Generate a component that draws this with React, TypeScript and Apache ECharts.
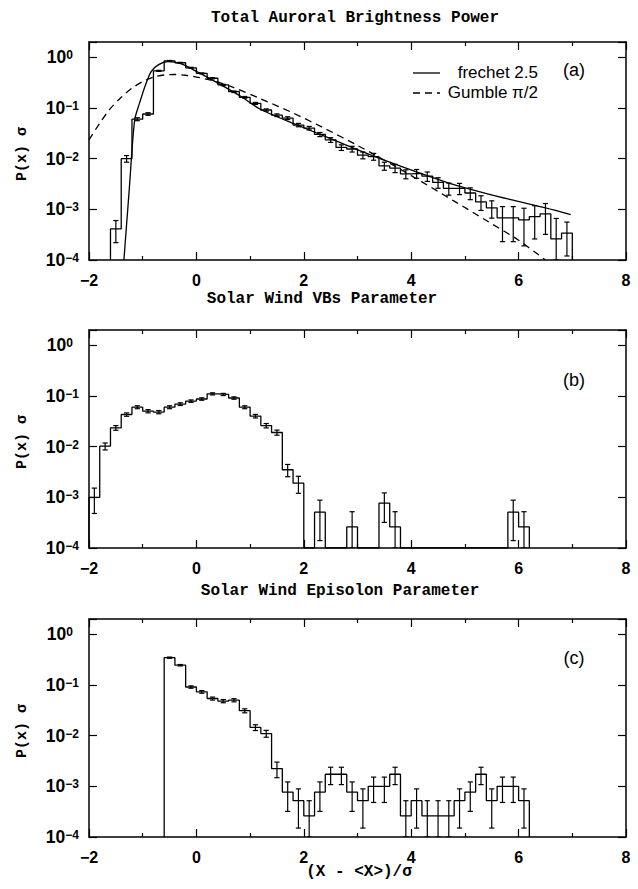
import React, { useEffect, useRef } from "react";
import * as echarts from "echarts";

const FLOOR = 1e-4;
const TOP = 2;
const HALF_BIN = 0.1;

// Panel (a): Total Auroral Brightness Power
const binsA = [-1.5, -1.3, -1.1, -0.9, -0.7, -0.5, -0.3, -0.1, 0.1, 0.3, 0.5, 0.7, 0.9, 1.1, 1.3, 1.5, 1.7, 1.9, 2.1, 2.3, 2.5, 2.7, 2.9, 3.1, 3.3, 3.5, 3.7, 3.9, 4.1, 4.3, 4.5, 4.7, 4.9, 5.1, 5.3, 5.5, 5.7, 5.9, 6.1, 6.3, 6.5, 6.7, 6.9];
const valsA = [4.1e-4, 1.0e-2, 6.0e-2, 7.6e-2, 0.54, 0.85, 0.78, 0.62, 0.48, 0.385, 0.284, 0.209, 0.162, 0.123, 0.091, 0.072, 0.063, 0.046, 0.040, 0.030, 0.0234, 0.0166, 0.0155, 0.0117, 0.011, 0.0072, 0.0065, 0.0050, 0.0051, 0.0045, 0.0034, 0.0026, 0.0026, 0.0021, 0.0014, 0.00107, 0.00068, 0.00068, 0.00062, 0.00072, 0.00081, 0.00026, 0.00034];
const errsA = [1.9e-4, 1.5e-3, 4e-3, 4.5e-3, 1.2e-2, 1.5e-2, 1.4e-2, 1.3e-2, 1.1e-2, 1.0e-2, 8.5e-3, 7.3e-3, 6.4e-3, 5.6e-3, 4.8e-3, 4.3e-3, 4.0e-3, 3.5e-3, 3.2e-3, 2.8e-3, 2.5e-3, 2.1e-3, 2.0e-3, 1.8e-3, 1.7e-3, 1.3e-3, 1.2e-3, 1.0e-3, 1.0e-3, 9.5e-4, 8e-4, 7e-4, 6.5e-4, 5.5e-4, 4.5e-4, 4.0e-4, 4.5e-4, 4.5e-4, 4.3e-4, 4.6e-4, 4.9e-4, 4.0e-4, 2.2e-4];

const frechetX = [-1.35, -1.25, -1.15, -1.06, -0.96, -0.84, -0.71, -0.53, -0.28, 0.0, 0.4, 0.84, 1.2, 2.0, 2.95, 3.6, 4.2, 4.7, 5.3, 5.9, 6.5, 6.97];
const frechetY = [1.0e-4, 2.5e-3, 0.0575, 0.123, 0.263, 0.525, 0.708, 0.818, 0.741, 0.525, 0.309, 0.166, 0.093, 0.0407, 0.0158, 0.0085, 0.0050, 0.0033, 0.00219, 0.00151, 0.00107, 0.00079];

const gumbelX = [-2.0, -1.8, -1.6, -1.4, -1.2, -1.0, -0.8, -0.6, -0.4, -0.2, 0.0, 0.3, 0.65, 1.2, 1.8, 2.4, 3.0, 3.6, 4.2, 4.8, 5.4, 6.0, 6.5];
const gumbelY = [0.0234, 0.0501, 0.0977, 0.162, 0.245, 0.331, 0.407, 0.447, 0.457, 0.442, 0.407, 0.347, 0.263, 0.151, 0.0794, 0.0389, 0.0182, 0.00813, 0.00347, 0.00145, 6.0e-4, 2.45e-4, 1.0e-4];

// Panel (b): Solar Wind VBs Parameter
const binsB = [-1.9, -1.7, -1.5, -1.3, -1.1, -0.9, -0.7, -0.5, -0.3, -0.1, 0.1, 0.3, 0.5, 0.7, 0.9, 1.1, 1.3, 1.5, 1.7, 1.9, 2.1, 2.3, 2.5, 2.7, 2.9, 3.1, 3.3, 3.5, 3.7, 3.9, 4.1, 4.3, 4.5, 4.7, 4.9, 5.1, 5.3, 5.5, 5.7, 5.9, 6.1];
const valsB = [1.0e-3, 1.02e-2, 2.35e-2, 4.3e-2, 6.0e-2, 5.0e-2, 4.8e-2, 6.0e-2, 6.9e-2, 7.9e-2, 8.7e-2, 0.110, 0.107, 0.091, 0.060, 0.040, 0.026, 0.019, 3.5e-3, 1.9e-3, 0, 5.1e-4, 0, 0, 2.6e-4, 0, 0, 7.7e-4, 2.6e-4, 0, 0, 0, 0, 0, 0, 0, 0, 0, 0, 5.1e-4, 2.6e-4];
const errsB = [5.2e-4, 1.6e-3, 2.5e-3, 3.3e-3, 4.0e-3, 3.6e-3, 3.5e-3, 4.0e-3, 4.2e-3, 4.5e-3, 4.8e-3, 5.3e-3, 5.3e-3, 4.9e-3, 4.0e-3, 3.2e-3, 2.6e-3, 2.2e-3, 9.5e-4, 7.0e-4, 0, 3.7e-4, 0, 0, 2.6e-4, 0, 0, 4.5e-4, 2.6e-4, 0, 0, 0, 0, 0, 0, 0, 0, 0, 0, 3.7e-4, 2.6e-4];

// Panel (c): Solar Wind Episolon Parameter
const binsC = [-0.5, -0.3, -0.1, 0.1, 0.3, 0.5, 0.7, 0.9, 1.1, 1.3, 1.5, 1.7, 1.9, 2.1, 2.3, 2.5, 2.7, 2.9, 3.1, 3.3, 3.5, 3.7, 3.9, 4.1, 4.3, 4.5, 4.7, 4.9, 5.1, 5.3, 5.5, 5.7, 5.9, 6.1];
const valsC = [0.345, 0.245, 0.091, 0.073, 0.054, 0.048, 0.050, 0.031, 0.0145, 0.011, 0.00224, 7.7e-4, 5.2e-4, 2.6e-4, 7.7e-4, 1.73e-3, 1.73e-3, 7.7e-4, 5.2e-4, 1.0e-3, 1.0e-3, 1.73e-3, 2.6e-4, 5.2e-4, 2.6e-4, 2.6e-4, 2.6e-4, 5.2e-4, 7.7e-4, 1.73e-3, 5.2e-4, 1.0e-3, 1.0e-3, 5.2e-4];
const errsC = [9.5e-3, 8e-3, 4.9e-3, 4.4e-3, 3.7e-3, 3.5e-3, 3.6e-3, 2.8e-3, 1.9e-3, 1.7e-3, 7.6e-4, 4.5e-4, 3.7e-4, 2.6e-4, 4.5e-4, 6.5e-4, 6.5e-4, 4.5e-4, 3.7e-4, 5.2e-4, 5.2e-4, 6.5e-4, 2.6e-4, 3.7e-4, 2.6e-4, 2.6e-4, 2.6e-4, 3.7e-4, 4.5e-4, 6.5e-4, 3.7e-4, 5.2e-4, 5.2e-4, 3.7e-4];

const xTicks = { min: -2, max: 8, interval: 2 };
const titles = ["Total Auroral Brightness Power", "Solar Wind VBs Parameter", "Solar Wind Episolon Parameter"];
const panelTags = ["(a)", "(b)", "(c)"];
const legendNames = ["frechet 2.5", "Gumble \u03c0/2"];

const GRID_TOPS = [42, 330, 619];
const GRID_H = 218;
const GRID_LEFT = 89;
const GRID_W = 537;

function outline(centers: number[], vals: number[]) {
  const pts: number[][] = [[centers[0] - HALF_BIN, FLOOR]];
  centers.forEach((c, i) => {
    const v = vals[i] > 0 ? vals[i] : FLOOR;
    pts.push([c - HALF_BIN, v], [c + HALF_BIN, v]);
  });
  pts.push([centers[centers.length - 1] + HALF_BIN, FLOOR]);
  return pts;
}

function histSeries(idx: number, centers: number[], vals: number[]) {
  return {
    type: "line",
    xAxisIndex: idx * 2,
    yAxisIndex: idx * 2,
    data: outline(centers, vals),
    symbol: "none",
    showSymbol: false,
    silent: true,
    lineStyle: { color: "#000", width: 1.3 },
    z: 3,
  };
}

function errSeries(idx: number, centers: number[], vals: number[], errs: number[]) {
  const data = centers
    .map((c, i) => [c, vals[i], errs[i]])
    .filter((d) => d[1] > 0 && d[2] > 0);
  return {
    type: "custom",
    xAxisIndex: idx * 2,
    yAxisIndex: idx * 2,
    silent: true,
    clip: true,
    data,
    encode: { x: 0, y: 1 },
    z: 4,
    renderItem: (params: any, api: any) => {
      const x = api.value(0);
      const v = api.value(1);
      const e = api.value(2);
      const hi = Math.min(v + e, TOP);
      const lo = Math.max(v - e, FLOOR);
      const pHi = api.coord([x, hi]);
      const pLo = api.coord([x, lo]);
      const w = 2.6;
      const st = { stroke: "#000", lineWidth: 1.2 };
      return {
        type: "group",
        children: [
          { type: "line", shape: { x1: pHi[0], y1: pHi[1], x2: pLo[0], y2: pLo[1] }, style: st },
          { type: "line", shape: { x1: pHi[0] - w, y1: pHi[1], x2: pHi[0] + w, y2: pHi[1] }, style: st },
          { type: "line", shape: { x1: pLo[0] - w, y1: pLo[1], x2: pLo[0] + w, y2: pLo[1] }, style: st },
        ],
      };
    },
  };
}

function curveSeries(xs: number[], ys: number[], dashed: boolean) {
  return {
    type: "line",
    xAxisIndex: 0,
    yAxisIndex: 0,
    data: xs.map((x, i) => [x, ys[i]]),
    smooth: 0.3,
    symbol: "none",
    showSymbol: false,
    silent: true,
    clip: true,
    lineStyle: { color: "#000", width: 1.3, type: dashed ? [7, 5] : "solid" },
    z: 5,
  };
}

const tickFont = { color: "#000", fontSize: 16, fontWeight: "bold", fontFamily: "Liberation Sans" };

function makeAxes(i: number) {
  const lineStyle = { color: "#000", width: 1.5 };
  const tickStyle = { color: "#000", width: 1.2 };
  const xBase = {
    type: "value",
    gridIndex: i,
    min: xTicks.min,
    max: xTicks.max,
    interval: xTicks.interval,
    axisLine: { show: true, onZero: false, lineStyle },
    axisTick: { show: true, inside: true, length: 8, lineStyle: tickStyle },
    minorTick: { show: true, splitNumber: 2, length: 4, lineStyle: tickStyle },
    splitLine: { show: false },
  };
  const yBase = {
    type: "log",
    logBase: 10,
    gridIndex: i,
    min: FLOOR,
    max: TOP,
    splitNumber: 4,
    axisLine: { show: true, onZero: false, lineStyle },
    axisTick: { show: true, inside: true, length: 8, lineStyle: tickStyle },
    splitLine: { show: false },
    minorTick: { show: false },
  };
  const supFont = { color: "#000", fontSize: 12, fontWeight: "bold", fontFamily: "Liberation Sans", lineHeight: 12, verticalAlign: "top", padding: [1, 0, 0, 0] };
  return {
    x: [
      {
        ...xBase,
        position: "bottom",
        axisLabel: {
          show: true,
          margin: 12,
          ...tickFont,
          formatter: (v: number) => (v < 0 ? "\u2212" + Math.abs(v) : String(v)),
        },
      },
      { ...xBase, position: "top", axisLabel: { show: false } },
    ],
    y: [
      {
        ...yBase,
        position: "left",
        axisLabel: {
          show: true,
          margin: 10,
          formatter: (v: number) => {
            const e = Math.log10(v);
            const r = Math.round(e);
            if (Math.abs(e - r) > 1e-6) return "";
            if (r < 0) return "{b|10}{s|\u2212" + -r + "}";
            return "{b|10}{s|" + r + "}{p|\u2002}";
          },
          rich: {
            b: { color: "#000", fontSize: 17.5, fontWeight: "bold", fontFamily: "Liberation Sans", lineHeight: 18, verticalAlign: "bottom", padding: [6, 0, 0, 0] },
            s: supFont,
            p: { ...supFont },
          },
        },
      },
      { ...yBase, position: "right", axisLabel: { show: false } },
    ],
  };
}

export default function App() {
  const ref = useRef<HTMLDivElement>(null);
  useEffect(() => {
    if (!ref.current) return;
    const chart = echarts.init(ref.current, null, { renderer: "svg" });
    const xAxis: any[] = [];
    const yAxis: any[] = [];
    for (let i = 0; i < 3; i++) {
      const a = makeAxes(i);
      xAxis.push(...a.x);
      yAxis.push(...a.y);
    }
    const monoBold = 'bold 16px "Liberation Mono"';
    const sans = '17px "Liberation Sans"';
    const titleCenters = [[355, 18], [322, 299], [340, 591]];
    const tagY = [70, 380, 658];
    const graphic: any[] = [];
    titles.forEach((t, i) => {
      graphic.push({
        type: "text",
        x: titleCenters[i][0],
        y: titleCenters[i][1],
        style: { text: t, font: monoBold, fill: "#000", align: "center", verticalAlign: "middle" },
      });
      graphic.push({
        type: "text",
        x: 22,
        y: GRID_TOPS[i] + GRID_H / 2 + 3,
        rotation: Math.PI / 2,
        style: { text: "P(x) \u03c3", font: 'bold 15px "Liberation Mono"', fill: "#000", align: "center", verticalAlign: "middle" },
      });
      graphic.push({
        type: "text",
        x: 574,
        y: tagY[i],
        style: { text: panelTags[i], font: '18px "Liberation Sans"', fill: "#000", align: "center", verticalAlign: "middle" },
      });
    });
    graphic.push({
      type: "text",
      x: 359,
      y: 872,
      style: { text: "(X - <X>)/\u03c3", font: monoBold, fill: "#000", align: "center", verticalAlign: "middle" },
    });
    // legend
    graphic.push({ type: "line", shape: { x1: 413, y1: 73, x2: 440, y2: 73 }, style: { stroke: "#000", lineWidth: 1.3 } });
    graphic.push({ type: "line", shape: { x1: 413, y1: 93, x2: 440, y2: 93 }, style: { stroke: "#000", lineWidth: 1.3, lineDash: [7, 5] } });
    graphic.push({ type: "text", x: 538, y: 72, style: { text: legendNames[0], font: sans, fill: "#000", align: "right", verticalAlign: "middle" } });
    graphic.push({ type: "text", x: 538, y: 92, style: { text: legendNames[1], font: sans, fill: "#000", align: "right", verticalAlign: "middle" } });

    chart.setOption({
      animation: false,
      backgroundColor: "#fff",
      grid: GRID_TOPS.map((t) => ({ left: GRID_LEFT, top: t, width: GRID_W, height: GRID_H })),
      xAxis,
      yAxis,
      series: [
        histSeries(0, binsA, valsA),
        errSeries(0, binsA, valsA, errsA),
        curveSeries(frechetX, frechetY, false),
        curveSeries(gumbelX, gumbelY, true),
        histSeries(1, binsB, valsB),
        errSeries(1, binsB, valsB, errsB),
        histSeries(2, binsC, valsC),
        errSeries(2, binsC, valsC, errsC),
      ],
      graphic,
    });
    return () => chart.dispose();
  }, []);
  return <div ref={ref} style={{ position: "fixed", left: 0, top: 0, width: 638, height: 889, background: "#fff" }} />;
}
